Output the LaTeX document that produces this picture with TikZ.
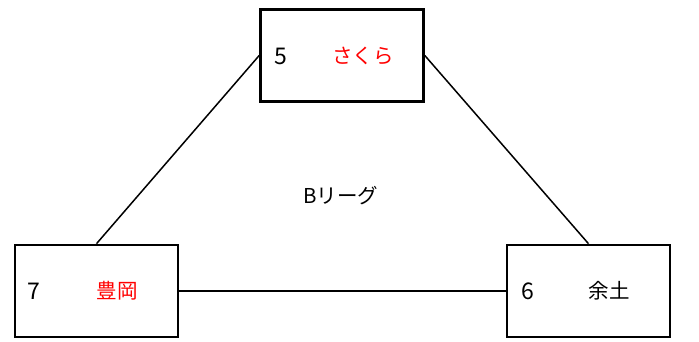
\documentclass[tikz,border=0pt]{standalone}
\usepackage{fontspec}
\setmainfont{Noto Sans CJK JP}
\begin{document}
\begin{tikzpicture}[x=1pt,y=1pt,font=\fontsize{20.5}{24}\selectfont]
\tikzset{team/.style={draw, line width=2.6pt, minimum width=163pt, minimum height=92pt, inner sep=0pt},
         link/.style={line width=1.5pt},
         seed/.style={font=\fontsize{23}{26}\selectfont}}
\useasboundingbox (0,0) rectangle (699,341);
    \node[team] (T1) at (342,285.5){};
    \node[team] (T2) at (96.5,50){};
    \node[team] (T3) at (588.5,50){};
\draw[link](T1.west)--(T2.north);
\draw[link](T1.east)--(T3.north);
\draw[link](T2.east)--(T3.west);

\node[seed] (N1) at (281,285) {5};
\node[text=red] (S1) at (363,285) {さくら};
\node[seed] (N2) at (34,50) {7};
\node[text=red] (S2) at (117,50) {豊岡};
\node[seed] (N3) at (528,50) {6};
\node (S3) at (609,50) {余土};

\node (L) at (341,145) {Bリーグ};
\end{tikzpicture}
\end{document}
